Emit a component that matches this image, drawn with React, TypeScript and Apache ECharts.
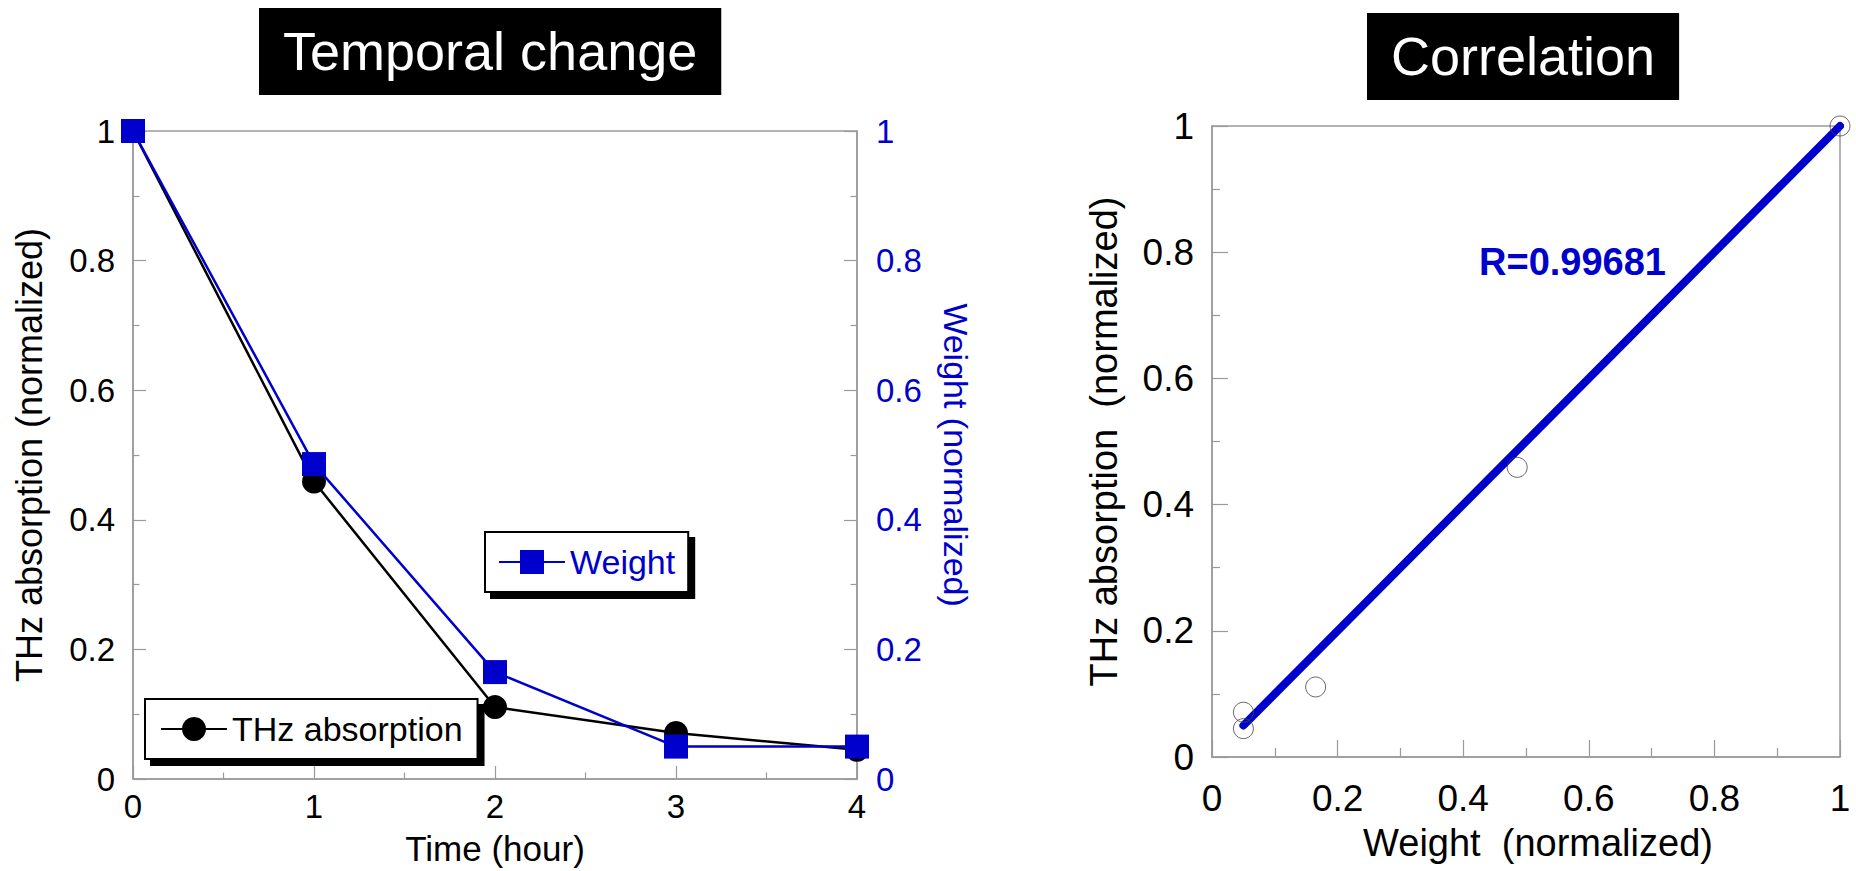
import React, { useEffect, useRef } from "react";
import * as echarts from "echarts";

// ---- Data ----
const hours = [0, 1, 2, 3, 4];
const thzAbsorption = [1, 0.459, 0.111, 0.071, 0.045];
const weight = [1, 0.486, 0.165, 0.05, 0.05];
const fitLineX = [0.05, 1];
const fitLineY = [0.05, 1];
const correlationLabel = "R=0.99681";
const leftTitle = "Temporal change";
const rightTitle = "Correlation";

const FONT = "'Liberation Sans', Arial, Helvetica, sans-serif";
const BLUE = "#0000CC";
const GRAY = "#9a9a9a";

function fmt(v: number) {
  return String(Math.round(v * 10) / 10);
}

export default function App() {
  const ref = useRef<HTMLDivElement>(null);

  useEffect(() => {
    if (!ref.current) return;
    const chart = echarts.init(ref.current, undefined, { renderer: "svg" });

    const axisCommon = (tickLen: number, minorLen: number, labelSize: number, labelColor: string, margin: number) => ({
      type: "value" as const,
      axisLine: { show: true, onZero: false, lineStyle: { color: GRAY, width: 1.5 } },
      axisTick: { show: true, inside: true, length: tickLen, lineStyle: { color: GRAY, width: 1.2 } },
      minorTick: { show: true, splitNumber: 2, length: minorLen, lineStyle: { color: GRAY, width: 1.2 } },
      axisLabel: { fontSize: labelSize, color: labelColor, margin, fontFamily: FONT, formatter: fmt },
      splitLine: { show: false },
      minorSplitLine: { show: false },
    });

    const option: any = {
      animation: false,
      textStyle: { fontFamily: FONT },
      title: [
        {
          text: leftTitle,
          left: 259,
          top: 8,
          backgroundColor: "#000",
          padding: [16, 24, 17, 24],
          textStyle: { color: "#fff", fontSize: 54, fontWeight: "normal", fontFamily: FONT },
        },
        {
          text: rightTitle,
          left: 1367,
          top: 13,
          backgroundColor: "#000",
          padding: [16, 24, 17, 24],
          textStyle: { color: "#fff", fontSize: 54, fontWeight: "normal", fontFamily: FONT },
        },
      ],
      grid: [
        { left: 133, top: 131, width: 724, height: 651, show: true, borderColor: GRAY, borderWidth: 1.5, backgroundColor: "transparent" },
        { left: 1212, top: 126, width: 628, height: 631, show: true, borderColor: GRAY, borderWidth: 1.5, backgroundColor: "transparent" },
      ],
      xAxis: [
        {
          ...axisCommon(13, 6.5, 33, "#000", 11),
          gridIndex: 0,
          min: 0,
          max: 4,
          interval: 1,
          name: "Time (hour)",
          nameLocation: "middle",
          nameGap: 52,
          nameTextStyle: { fontSize: 35, color: "#000", fontFamily: FONT },
        },
        {
          ...axisCommon(17, 9, 37, "#000", 23),
          gridIndex: 1,
          min: 0,
          max: 1,
          interval: 0.2,
          name: "Weight  (normalized)",
          nameLocation: "middle",
          nameGap: 67,
          nameTextStyle: { fontSize: 38, color: "#000", fontFamily: FONT, padding: [0, 0, 0, 24] },
        },
      ],
      yAxis: [
        {
          ...axisCommon(13, 6.5, 33, "#000", 18),
          gridIndex: 0,
          position: "left",
          min: 0,
          max: 1,
          interval: 0.2,
          name: "THz absorption (normalized)",
          nameLocation: "middle",
          nameRotate: 90,
          nameGap: 86,
          nameTextStyle: { fontSize: 36, color: "#000", fontFamily: FONT },
        },
        {
          ...axisCommon(13, 6.5, 33, BLUE, 19),
          gridIndex: 0,
          position: "right",
          min: 0,
          max: 1,
          interval: 0.2,
          name: "Weight (normalized)",
          nameLocation: "middle",
          nameRotate: -90,
          nameGap: 82,
          nameTextStyle: { fontSize: 34, color: BLUE, fontFamily: FONT },
        },
        {
          ...axisCommon(16, 8, 37, "#000", 18),
          gridIndex: 1,
          position: "left",
          min: 0,
          max: 1,
          interval: 0.2,
          name: "THz absorption  (normalized)",
          nameLocation: "middle",
          nameRotate: 90,
          nameGap: 89,
          nameTextStyle: { fontSize: 38, color: "#000", fontFamily: FONT },
        },
      ],
      legend: [
        {
          data: ["Weight"],
          left: 485,
          top: 532,
          itemWidth: 66,
          itemHeight: 30,
          itemGap: 0,
          padding: [13, 13],
          borderColor: "#000",
          borderWidth: 2,
          backgroundColor: "#fff",
          shadowColor: "#000",
          shadowOffsetX: 6,
          shadowOffsetY: 6,
          shadowBlur: 0,
          selectedMode: false,
          textStyle: { color: BLUE, fontSize: 34, fontFamily: FONT },
        },
        {
          data: ["THz absorption"],
          left: 145,
          top: 699,
          itemWidth: 66,
          itemHeight: 30,
          itemGap: 0,
          padding: [13, 15],
          borderColor: "#000",
          borderWidth: 2,
          backgroundColor: "#fff",
          shadowColor: "#000",
          shadowOffsetX: 6,
          shadowOffsetY: 6,
          shadowBlur: 0,
          selectedMode: false,
          textStyle: { color: "#000", fontSize: 34, fontFamily: FONT },
        },
      ],
      graphic: [
        {
          type: "text",
          x: 1479,
          y: 262,
          z: 10,
          style: {
            text: correlationLabel,
            fill: BLUE,
            fontSize: 38,
            fontWeight: "bold",
            fontFamily: FONT,
            textVerticalAlign: "middle",
            textAlign: "left",
          },
        },
      ],
      series: [
        {
          name: "THz absorption",
          type: "line",
          xAxisIndex: 0,
          yAxisIndex: 0,
          data: hours.map((h, i) => [h, thzAbsorption[i]]),
          symbol: "circle",
          symbolSize: 24,
          clip: false,
          lineStyle: { color: "#000", width: 2.5 },
          itemStyle: { color: "#000" },
          z: 2,
        },
        {
          name: "Weight",
          type: "line",
          xAxisIndex: 0,
          yAxisIndex: 1,
          data: hours.map((h, i) => [h, weight[i]]),
          symbol: "rect",
          symbolSize: 24,
          clip: false,
          lineStyle: { color: BLUE, width: 2.5 },
          itemStyle: { color: BLUE },
          z: 3,
        },
        {
          name: "Fit",
          type: "line",
          xAxisIndex: 1,
          yAxisIndex: 2,
          data: fitLineX.map((x, i) => [x, fitLineY[i]]),
          symbol: "none",
          clip: false,
          lineStyle: { color: BLUE, width: 8, cap: "round" },
          z: 2,
        },
        {
          name: "Samples",
          type: "scatter",
          xAxisIndex: 1,
          yAxisIndex: 2,
          data: weight.map((w, i) => [w, thzAbsorption[i]]),
          symbol: "circle",
          symbolSize: 20,
          clip: false,
          itemStyle: { color: "rgba(0,0,0,0)", borderColor: "#444", borderWidth: 1 },
          z: 3,
        },
      ],
    };

    chart.setOption(option);
    return () => chart.dispose();
  }, []);

  return (
    <div
      ref={ref}
      style={{ position: "absolute", left: 0, top: 0, width: 1856, height: 871, background: "#fff" }}
    />
  );
}
